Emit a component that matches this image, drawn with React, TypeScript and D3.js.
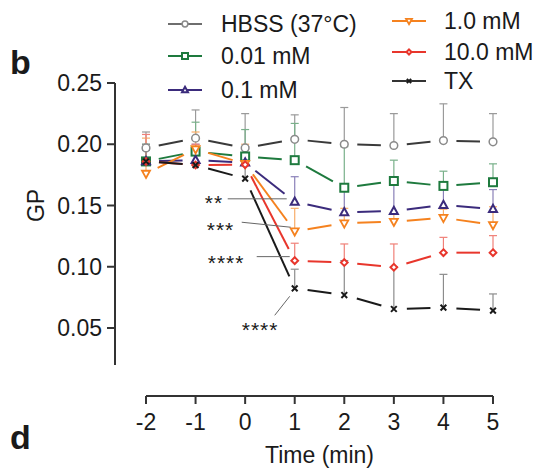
import React from 'react';
import * as d3 from 'd3';

// time points (min)
const times = [-2, -1, 0, 1, 2, 3, 4, 5];

// GP means and the top of the error bars, per condition
const hbss = [0.197, 0.205, 0.197, 0.204, 0.2, 0.199, 0.203, 0.202];
const hbssErr = [0.21, 0.228, 0.225, 0.224, 0.23, 0.225, 0.233, 0.225];
const mM001 = [0.186, 0.194, 0.19, 0.187, 0.1645, 0.17, 0.166, 0.169];
const mM001Err = [0.2, 0.218, 0.212, 0.217, 0.198, 0.187, 0.178, 0.184];
const mM01 = [0.186, 0.187, 0.185, 0.153, 0.1444, 0.1455, 0.1504, 0.147];
const mM01Err = [0.195, 0.2, 0.198, 0.1735, 0.163, 0.168, 0.165, 0.163];
const mM1 = [0.176, 0.196, 0.184, 0.129, 0.1355, 0.1368, 0.14, 0.1341];
const mM1Err = [0.205, 0.21, 0.2, 0.1477, 0.1477, 0.1436, 0.147, 0.149];
const mM10 = [0.186, 0.183, 0.1833, 0.105, 0.1034, 0.0996, 0.1115, 0.1115];
const mM10Err = [0.208, 0.2, 0.198, 0.1192, 0.1186, 0.1186, 0.124, 0.1254];
const tx = [0.186, 0.183, 0.172, 0.0824, 0.0769, 0.0655, 0.0666, 0.0642];
const txErr = [0.2, 0.195, 0.19, 0.098, 0.105, 0.1, 0.0938, 0.0778];

const yTicks = [0.05, 0.1, 0.15, 0.2, 0.25];
const xTicks = [-2, -1, 0, 1, 2, 3, 4, 5];

const series = [
  { name: 'HBSS (37°C)', vals: hbss, err: hbssErr, line: '#3a3a3a', mark: '#8a8a8a', bar: '#9a9a9a', legLine: '#6e6e6e', shape: 'circle' },
  { name: '0.01 mM', vals: mM001, err: mM001Err, line: '#1e7a3e', mark: '#1e7a3e', bar: '#79b08a', legLine: '#1e7a3e', shape: 'square' },
  { name: '0.1 mM', vals: mM01, err: mM01Err, line: '#3b2b7c', mark: '#3b2b7c', bar: '#8a80b8', legLine: '#3b2b7c', shape: 'triangle' },
  { name: '1.0 mM', vals: mM1, err: mM1Err, line: '#f5821f', mark: '#f5821f', bar: '#f8ad6a', legLine: '#f5821f', shape: 'invtriangle' },
  { name: '10.0 mM', vals: mM10, err: mM10Err, line: '#e8362c', mark: '#e8362c', bar: '#f08078', legLine: '#e8362c', shape: 'diamond' },
  { name: 'TX', vals: tx, err: txErr, line: '#1a1a1a', mark: '#1a1a1a', bar: '#8c8c8c', legLine: '#333333', shape: 'cross' },
];

// significance labels at t = 1, offsets relative to the marker they point at
const stars = [
  { label: '**', s: 2, tx: -90, ty: -5, x1: -67, y1: -3, x2: -8, y2: -3 },
  { label: '***', s: 3, tx: -88, ty: -7, x1: -53, y1: -9, x2: -4, y2: -4 },
  { label: '****', s: 4, tx: -87, ty: -4, x1: -38, y1: -4, x2: -5, y2: -4 },
  { label: '****', s: 5, tx: -53, ty: 36, x1: -20, y1: 27, x2: -5, y2: 8 },
];

const font = '"Liberation Sans", Arial, sans-serif';

function Marker({ shape, x, y, color, size }: any) {
  const s = size;
  if (shape === 'circle')
    return <circle cx={x} cy={y} r={s * 0.48} fill="#fff" stroke={color} strokeWidth={1.5} />;
  if (shape === 'square')
    return <rect x={x - s / 2} y={y - s / 2} width={s} height={s} fill="#fff" stroke={color} strokeWidth={2} />;
  if (shape === 'triangle') {
    const h = s * 0.9;
    return <path d={`M${x},${y - h * 0.6}L${x + s / 2},${y + h * 0.4}L${x - s / 2},${y + h * 0.4}Z`} fill="#fff" stroke={color} strokeWidth={2} />;
  }
  if (shape === 'invtriangle') {
    const h = s * 0.9;
    return <path d={`M${x},${y + h * 0.6}L${x + s / 2},${y - h * 0.4}L${x - s / 2},${y - h * 0.4}Z`} fill="#fff" stroke={color} strokeWidth={1.8} />;
  }
  if (shape === 'diamond') {
    const r = s * 0.42;
    return <path d={`M${x},${y - r}L${x + r},${y}L${x},${y + r}L${x - r},${y}Z`} fill="#fff" stroke={color} strokeWidth={2} />;
  }
  const r = s * 0.36;
  return <path d={`M${x - r},${y - r}L${x + r},${y + r}M${x - r},${y + r}L${x + r},${y - r}`} stroke={color} strokeWidth={2} />;
}

const App = () => {
  const x = d3.scaleLinear().domain([-2, 5]).range([146, 493]);
  const y = d3.scaleLinear().domain([0.05, 0.25]).range([328, 83]);
  const fmt = d3.format('.2f');
  const gap = 13;

  const segs = (vals: number[]) => {
    const out: any[] = [];
    for (let i = 0; i < vals.length - 1; i++) {
      const ax = x(times[i]), ay = y(vals[i]);
      const bx = x(times[i + 1]), by = y(vals[i + 1]);
      const d = Math.hypot(bx - ax, by - ay);
      const ux = (bx - ax) / d, uy = (by - ay) / d;
      out.push([ax + ux * gap, ay + uy * gap, bx - ux * gap, by - uy * gap]);
    }
    return out;
  };

  const legend = [
    { s: 0, lx: 168, tx: 221, cy: 24 },
    { s: 1, lx: 168, tx: 221, cy: 56 },
    { s: 2, lx: 168, tx: 221, cy: 90 },
    { s: 3, lx: 392, tx: 444, cy: 21 },
    { s: 4, lx: 392, tx: 444, cy: 52 },
    { s: 5, lx: 392, tx: 444, cy: 81 },
  ];

  return (
    <svg width={539} height={472} style={{ position: 'absolute', left: 0, top: 0, background: '#fff' }} fontFamily={font}>
      {/* panel letters */}
      <text x={10} y={74} fontSize={34} fontWeight="bold" fill="#1a1a1a">b</text>
      <text x={10} y={449} fontSize={34} fontWeight="bold" fill="#1a1a1a">d</text>

      {/* legend */}
      {legend.map((l, i) => {
        const s = series[l.s];
        return (
          <g key={i}>
            <line x1={l.lx} x2={l.lx + 34} y1={l.cy} y2={l.cy} stroke={s.legLine} strokeWidth={2} />
            <Marker shape={s.shape} x={l.lx + 17} y={l.cy} color={s.shape === 'circle' ? '#8a8a8a' : s.mark} size={6} />
            <text x={l.tx} y={l.cy + 8} fontSize={23} fill="#1a1a1a">{s.name}</text>
          </g>
        );
      })}

      {/* y axis */}
      <line x1={115} x2={115} y1={y(0.25)} y2={365} stroke="#333" strokeWidth={2} />
      {yTicks.map((t) => (
        <g key={t}>
          <line x1={107} x2={115} y1={y(t)} y2={y(t)} stroke="#333" strokeWidth={2} />
          <text x={102} y={y(t) + 8} fontSize={23} textAnchor="end" fill="#1a1a1a">{fmt(t)}</text>
        </g>
      ))}
      <text transform={`translate(44,${y(0.15)}) rotate(-90)`} fontSize={23} textAnchor="middle" fill="#1a1a1a">GP</text>

      {/* x axis */}
      <line x1={x(-2)} x2={x(5)} y1={396} y2={396} stroke="#333" strokeWidth={2} />
      {xTicks.map((t) => (
        <g key={t}>
          <line x1={x(t)} x2={x(t)} y1={396} y2={404} stroke="#333" strokeWidth={2} />
          <text x={x(t)} y={430} fontSize={23} textAnchor="middle" fill="#1a1a1a">{t}</text>
        </g>
      ))}
      <text x={(x(-2) + x(5)) / 2} y={463} fontSize={23} textAnchor="middle" fill="#1a1a1a">Time (min)</text>

      {/* error bars (upper) */}
      {series.map((s, si) => (
        <g key={'e' + si}>
          {s.vals.map((v, i) => (
            <g key={i}>
              <line x1={x(times[i])} x2={x(times[i])} y1={y(v)} y2={y(s.err[i])} stroke={s.bar} strokeWidth={1.2} />
              <line x1={x(times[i]) - 4} x2={x(times[i]) + 4} y1={y(s.err[i])} y2={y(s.err[i])} stroke={s.bar} strokeWidth={1.2} />
            </g>
          ))}
        </g>
      ))}

      {/* connecting lines with gaps at markers */}
      {series.map((s, si) => (
        <g key={'l' + si}>
          {segs(s.vals).map((p, i) => (
            <line key={i} x1={p[0]} y1={p[1]} x2={p[2]} y2={p[3]} stroke={s.line} strokeWidth={2} />
          ))}
        </g>
      ))}

      {/* markers */}
      {series.map((s, si) => (
        <g key={'m' + si}>
          {s.vals.map((v, i) => (
            <Marker key={i} shape={s.shape} x={x(times[i])} y={y(v)} color={s.mark} size={8} />
          ))}
        </g>
      ))}

      {/* significance */}
      {stars.map((a, i) => {
        const mx = x(1), my = y(series[a.s].vals[3]);
        return (
          <g key={'s' + i}>
            <line x1={mx + a.x1} y1={my + a.y1} x2={mx + a.x2} y2={my + a.y2} stroke="#666" strokeWidth={1} />
            <text x={mx + a.tx} y={my + a.ty + 13} fontSize={21} fill="#1a1a1a" letterSpacing={1}>{a.label}</text>
          </g>
        );
      })}
    </svg>
  );
};

export default App;
